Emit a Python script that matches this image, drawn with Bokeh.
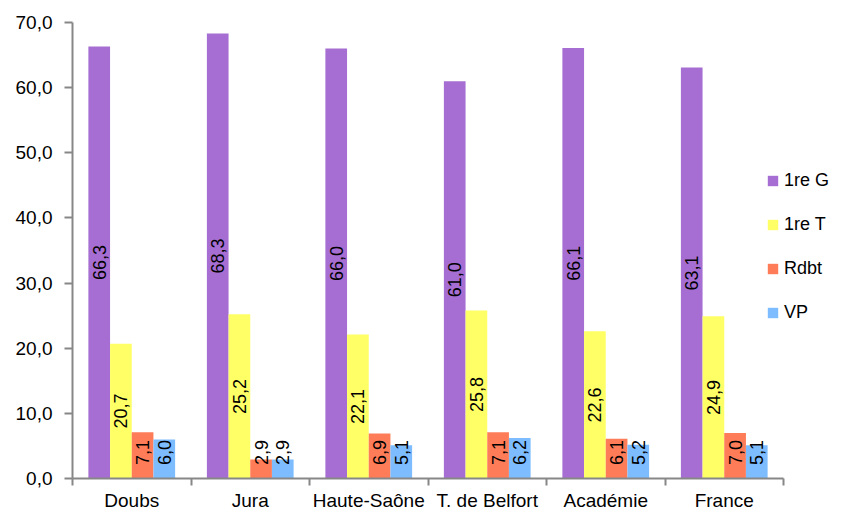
import math
from bokeh.plotting import figure
from bokeh.models import ColumnDataSource, Range1d, FixedTicker, Legend, LegendItem
from bokeh.core.properties import value
from bokeh.embed import file_html
from bokeh.resources import INLINE

categories = ["Doubs", "Jura", "Haute-Saône", "T. de Belfort", "Académie", "France"]
series_names = ["1re G", "1re T", "Rdbt", "VP"]
premiere_g = [66.3, 68.3, 66.0, 61.0, 66.1, 63.1]
premiere_t = [20.7, 25.2, 22.1, 25.8, 22.6, 24.9]
rdbt = [7.1, 2.9, 6.9, 7.1, 6.1, 7.0]
vp = [6.0, 2.9, 5.1, 6.2, 5.2, 5.1]
y_ticks = [0, 10, 20, 30, 40, 50, 60, 70]
y_tick_labels = ["0,0", "10,0", "20,0", "30,0", "40,0", "50,0", "60,0", "70,0"]
colors = ["#A66ED2", "#FFFF66", "#FF7C58", "#7CBCFF"]

series = [premiere_g, premiere_t, rdbt, vp]
FONT = "Liberation Sans"
AXIS_COLOR = "#878787"
n = len(categories)

W, H = 832, 513
LEFT, TOP, BOTTOM = 72, 22, 33
cat_px = 118.5
frame_w = W - LEFT

p = figure(width=W, height=H, output_backend="svg", toolbar_location=None,
           x_range=Range1d(0, frame_w / cat_px), y_range=Range1d(0, 70),
           min_border_left=LEFT, min_border_right=0, min_border_top=TOP,
           min_border_bottom=BOTTOM)
p.outline_line_color = None
p.xgrid.grid_line_color = None
p.ygrid.grid_line_color = None
p.background_fill_color = "white"
p.border_fill_color = "white"

# y axis
p.yaxis.ticker = FixedTicker(ticks=y_ticks)
p.yaxis.major_label_overrides = {t: l for t, l in zip(y_ticks, y_tick_labels)}
p.yaxis.major_tick_out = 8
p.yaxis.major_tick_in = 0
p.yaxis.minor_tick_line_color = None
p.yaxis.axis_line_color = AXIS_COLOR
p.yaxis.axis_line_width = 2
p.yaxis.major_tick_line_color = AXIS_COLOR
p.yaxis.major_tick_line_width = 2
p.yaxis.major_label_text_font = FONT
p.yaxis.major_label_text_font_size = "19px"
p.yaxis.major_label_text_color = "black"
p.yaxis.major_label_standoff = 12

# x axis: labels at category centers, tick marks at category boundaries
centers = [i + 0.5 for i in range(n)]
bounds = list(range(n + 1))
p.xaxis.ticker = FixedTicker(ticks=centers, minor_ticks=bounds)
p.xaxis.bounds = (0, n)
p.xaxis.major_label_overrides = {c: name for c, name in zip(centers, categories)}
p.xaxis.major_tick_line_color = None
p.xaxis.minor_tick_out = 7
p.xaxis.minor_tick_in = 0
p.xaxis.minor_tick_line_color = AXIS_COLOR
p.xaxis.minor_tick_line_width = 2
p.xaxis.axis_line_color = AXIS_COLOR
p.xaxis.axis_line_width = 2
p.xaxis.major_label_text_font = FONT
p.xaxis.major_label_text_font_size = "19px"
p.xaxis.major_label_text_color = "black"
p.xaxis.major_label_standoff = 4

bw = 0.183
items = []
for k, (name, vals, col) in enumerate(zip(series_names, series, colors)):
    off = (k - 1.5) * bw
    xs = [c + off for c in centers]
    src = ColumnDataSource(dict(
        x=xs, top=vals,
        ly=[max(v / 2, 4.0) for v in vals],
        lbl=[f"{v:.1f}".replace(".", ",") for v in vals],
    ))
    r = p.vbar(x="x", top="top", width=bw, source=src, fill_color=col, line_color=None)
    p.text(x="x", y="ly", text="lbl", source=src, angle=math.pi / 2,
           text_align="center", text_baseline="middle",
           text_font=value(FONT), text_font_size="18px", text_color="black")
    items.append(LegendItem(label=name, renderers=[r]))

legend = Legend(items=items, location=(694, 155), orientation="vertical",
                glyph_width=13, glyph_height=13, label_height=22, spacing=22,
                label_standoff=5, padding=0, margin=0,
                border_line_color=None, background_fill_alpha=0,
                label_text_font=FONT, label_text_font_size="18px",
                label_text_color="black")
p.add_layout(legend, "center")

open("out.html", "w").write(file_html(p, INLINE))
